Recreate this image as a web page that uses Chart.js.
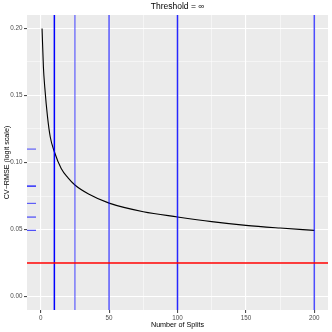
<!DOCTYPE html>
<html>
<head>
<meta charset="utf-8">
<script src="https://cdn.jsdelivr.net/npm/chart.js@4"></script>
<style>
  html, body { margin: 0; padding: 0; background: #fff; }
  #c { display: block; }
</style>
</head>
<body>
<canvas id="c" width="332" height="332"></canvas>
<script>
// curve
const splits = [1, 2, 3, 5, 7, 10, 15, 20, 25, 35, 50, 75, 100, 125, 150, 175, 200];
const cvRmse = [0.200, 0.171, 0.156, 0.134, 0.119, 0.108, 0.0955, 0.0885, 0.0832, 0.0765, 0.0697, 0.0633, 0.0594, 0.0559, 0.0531, 0.0511, 0.0494];

// vertical markers and the rug on the left
const splitMarks = [10, 25, 50, 100, 200];
const markAlpha = [1, 0.5, 0.65, 0.85, 0.7];
const rugValues = [0.110, 0.0824, 0.0695, 0.0593, 0.0494];
const rugAlpha = [0.6, 1, 0.6, 0.7, 0.7];
const threshold = [0.025];

const xMajor = [0, 50, 100, 150, 200];
const xMinor = [25, 75, 125, 175];
const yMajor = [0, 0.05, 0.10, 0.15, 0.20];
const yMinor = [0.025, 0.075, 0.125, 0.175];

const isMajor = (list, v) => list.some(m => Math.abs(m - v) < 1e-9);

const panelBg = {
  id: 'panelBg',
  beforeDraw(chart) {
    const a = chart.chartArea, ctx = chart.ctx;
    ctx.save();
    ctx.fillStyle = '#EBEBEB';
    ctx.fillRect(a.left, a.top, a.right - a.left, a.bottom - a.top);
    ctx.restore();
  }
};

const refLines = {
  id: 'refLines',
  afterDatasetsDraw(chart) {
    const a = chart.chartArea, ctx = chart.ctx;
    const xs = chart.scales.x, ys = chart.scales.y;
    ctx.save();
    ctx.beginPath();
    ctx.rect(a.left, a.top, a.right - a.left, a.bottom - a.top);
    ctx.clip();
    ctx.lineWidth = 1.5;
    splitMarks.forEach((v, i) => {
      const px = xs.getPixelForValue(v);
      ctx.strokeStyle = 'rgba(0,0,255,' + markAlpha[i] + ')';
      ctx.beginPath();
      ctx.moveTo(px, a.top);
      ctx.lineTo(px, a.bottom);
      ctx.stroke();
    });
    ctx.lineWidth = 1.2;
    rugValues.forEach((v, i) => {
      const py = ys.getPixelForValue(v);
      ctx.strokeStyle = 'rgba(0,0,255,' + rugAlpha[i] + ')';
      ctx.beginPath();
      ctx.moveTo(a.left, py);
      ctx.lineTo(a.left + 9, py);
      ctx.stroke();
    });
    ctx.lineWidth = 1.5;
    ctx.strokeStyle = '#FF0000';
    threshold.forEach(v => {
      const py = ys.getPixelForValue(v);
      ctx.beginPath();
      ctx.moveTo(a.left, py);
      ctx.lineTo(a.right, py);
      ctx.stroke();
    });
    ctx.restore();
  }
};

const panelTitle = {
  id: 'panelTitle',
  afterDraw(chart) {
    const a = chart.chartArea, ctx = chart.ctx;
    ctx.save();
    ctx.fillStyle = '#000';
    ctx.font = '8.5px "Liberation Sans", Arial, sans-serif';
    ctx.textAlign = 'center';
    ctx.textBaseline = 'middle';
    ctx.fillText('Threshold = \u221E', (a.left + a.right) / 2, 7);
    ctx.restore();
  }
};

const tickFont = { family: '"Liberation Sans", Arial, sans-serif', size: 6.3 };
const titleFont = { family: '"Liberation Sans", Arial, sans-serif', size: 7.2 };

function gridFor(major) {
  return {
    color: '#FFFFFF',
    lineWidth: c => (c.tick && isMajor(major, c.tick.value)) ? 1.1 : 0.5,
    tickColor: c => (c.tick && isMajor(major, c.tick.value)) ? '#4D4D4D' : 'rgba(0,0,0,0)',
    tickLength: 3,
    drawOnChartArea: true
  };
}

new Chart(document.getElementById('c').getContext('2d'), {
  type: 'line',
  data: {
    datasets: [{
      data: splits.map((s, i) => ({ x: s, y: cvRmse[i] })),
      borderColor: '#000000',
      borderWidth: 1.1,
      pointRadius: 0,
      cubicInterpolationMode: 'monotone',
      fill: false
    }]
  },
  options: {
    responsive: false,
    animation: false,
    devicePixelRatio: 1,
    layout: { padding: { top: 15, right: 4, left: 0, bottom: 0 } },
    plugins: {
      legend: { display: false },
      tooltip: { enabled: false }
    },
    scales: {
      x: {
        type: 'linear',
        min: -10,
        max: 210,
        border: { display: false },
        grid: gridFor(xMajor),
        afterBuildTicks: s => { s.ticks = xMajor.concat(xMinor).sort((p, q) => p - q).map(v => ({ value: v })); },
        afterFit: s => { s.height = 22; },
        ticks: {
          font: tickFont,
          color: '#4D4D4D',
          padding: 1,
          maxRotation: 0,
          autoSkip: false,
          callback: v => isMajor(xMajor, v) ? String(v) : ''
        },
        title: {
          display: true,
          text: 'Number of Splits',
          font: titleFont,
          color: '#000',
          padding: { top: 0, bottom: 2.6 }
        }
      },
      y: {
        type: 'linear',
        min: -0.01,
        max: 0.21,
        border: { display: false },
        grid: gridFor(yMajor),
        afterBuildTicks: s => { s.ticks = yMajor.concat(yMinor).sort((p, q) => p - q).map(v => ({ value: v })); },
        afterFit: s => { s.width = 27; },
        ticks: {
          font: tickFont,
          color: '#4D4D4D',
          padding: 1.5,
          autoSkip: false,
          callback: v => isMajor(yMajor, v) ? v.toFixed(2) : ''
        },
        title: {
          display: true,
          text: 'CV\u2212RMSE (logit scale)',
          font: titleFont,
          color: '#000',
          padding: { top: 2.8, bottom: 0 }
        }
      }
    }
  },
  plugins: [panelBg, refLines, panelTitle]
});
</script>
</body>
</html>
